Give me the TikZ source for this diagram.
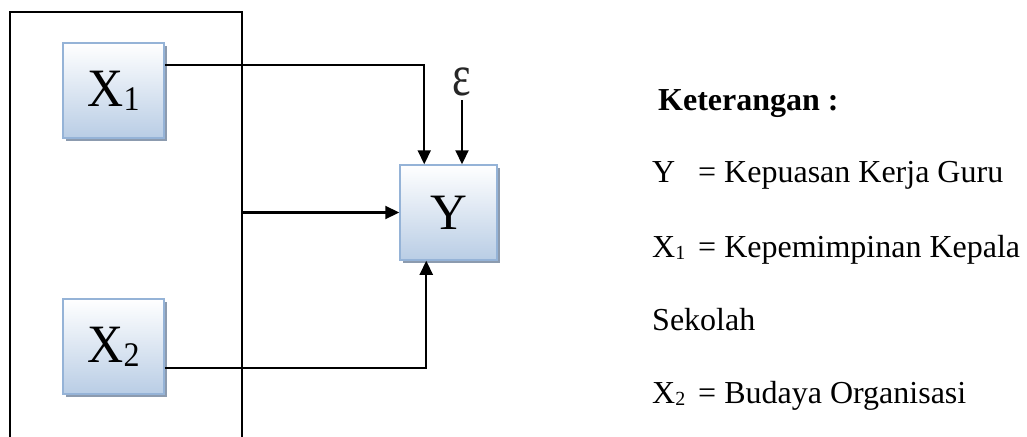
\documentclass[tikz,border=0pt]{standalone}
\usepackage{fontspec}
\setmainfont{Liberation Serif}
\usetikzlibrary{arrows.meta,shadows,calc}
\definecolor{boxborder}{RGB}{149,179,215}
\definecolor{boxbottom}{RGB}{185,205,229}
\definecolor{boxshadow}{RGB}{140,155,175}
\tikzset{
  varbox/.style={draw=boxborder, line width=1.5pt, top color=white, bottom color=boxbottom,
    minimum width=101pt, minimum height=95pt, inner sep=0pt,
    drop shadow={shadow xshift=3pt, shadow yshift=-3pt, fill=boxshadow, opacity=1}},
  conn/.style={line width=2.2pt, black},
  frameline/.style={line width=2.8pt, black},
  arr/.style={conn, -{Triangle[length=14pt,width=13pt]}},
  legend/.style={anchor=base west, inner sep=0pt, font=\fontsize{32}{36}\selectfont}
}
\newcommand{\bigsub}[1]{{\fontsize{32}{32}\selectfont\raisebox{-4pt}{#1}}}
\newcommand{\smsub}[1]{{\fontsize{20}{20}\selectfont\raisebox{-2pt}{#1}}}
\begin{document}
\begin{tikzpicture}[x=1pt,y=-1pt]
\useasboundingbox (0,0) rectangle (1027,436);
% frame
\draw[frameline] (242,440) -- (242,12) -- (10,12) -- (10,440);
% boxes
\node[varbox] (X1) at (113.5,90.5) {\scalebox{1}[1.08]{\fontsize{50}{50}\selectfont X\bigsub{1}}};
\node[varbox] (X2) at (113.5,346.5) {\scalebox{1}[1.08]{\fontsize{50}{50}\selectfont X\bigsub{2}}};
\node[varbox, minimum width=97pt] (Y) at (448.5,212.5) {\fontsize{51}{51}\selectfont Y};
\node[inner sep=0pt, text=black!85] (eps) at (462,82) {\scalebox{1.05}[1.4]{\fontsize{42}{42}\selectfont ε}};
% connectors
\coordinate (m) at (242,212.5);
\draw[arr] (X1.east |- 0,65) -| ($(Y.north west)+(25,0)$);
\draw[arr] (eps.south |- 0,100) -- (eps.south |- Y.north);
\draw[arr] (m) -- (Y.west);
\draw[arr] (X2.east |- 0,368) -| ($(Y.south west)+(27,0)$);
% legend
\node[legend, font=\bfseries\fontsize{32}{36}\selectfont] (k) at (658,110) {Keterangan :};
\node[legend] (l1) at (652,182) {\makebox[46pt][l]{Y}= Kepuasan Kerja Guru};
\node[legend] (l2) at (652,257) {\makebox[46pt][l]{X\smsub{1}}= Kepemimpinan Kepala};
\node[legend] (l3) at (652,330) {Sekolah};
\node[legend] (l4) at (652,403) {\makebox[46pt][l]{X\smsub{2}}= Budaya Organisasi};
\end{tikzpicture}
\end{document}
